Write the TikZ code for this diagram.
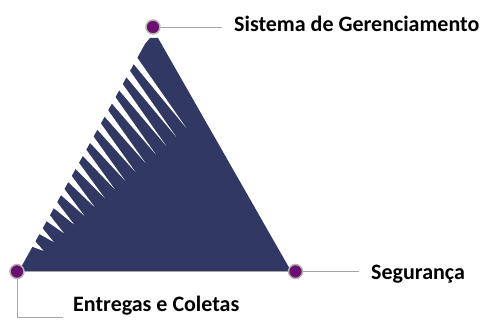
\documentclass[tikz,border=0pt]{standalone}
\usepackage{fontspec}
\setmainfont{Carlito}
\usepackage{tikz}

\definecolor{navy}{RGB}{49,56,99}
\definecolor{plum}{RGB}{106,16,112}
\definecolor{ring}{RGB}{180,180,180}
\definecolor{leadgrey}{RGB}{166,166,166}

\begin{document}
\begin{tikzpicture}[x=1pt,y=-1pt]
\tikzset{dot/.style = {shape=circle,draw=ring,line width=1.5pt,fill=plum,minimum size=14pt,inner sep=0pt}}
\tikzset{leader/.style = {draw=leadgrey,line width=0.9pt}}
\tikzset{caption/.style = {font=\fontsize{22}{26}\selectfont\bfseries,inner sep=0pt,anchor=base west}}
\useasboundingbox (0,0) rectangle (484,323);
% triangle
\fill[navy] (145,44) -- (150,38) -- (158,38) -- (291,271) -- (19,271) -- cycle;
% white slits along the left side
\foreach \i in {0,...,14} {
  \pgfmathsetmacro{\ya}{56+13.14*\i}
  \pgfmathsetmacro{\xa}{145-0.555*(\ya-44)}
  \pgfmathsetmacro{\yb}{\ya+6}
  \pgfmathsetmacro{\xb}{145-0.555*(\yb-44)}
  \pgfmathsetmacro{\len}{1-0.85*\i/14}
  \fill[white] (\xa-3,\ya-1) -- (\xa+48*\len,\ya+72*\len) -- (\xb-3,\yb) -- cycle;
}
\node[dot](top) at (153,27) {};
\node[dot](left) at (17,271.5) {};
\node[dot](right) at (295.5,271.5) {};
\coordinate (topend) at (222,27);
\coordinate (rightend) at (359,271.5);
\coordinate (leftend) at (63,317);
\draw[leader] (left) -- (right);
\draw[leader] (top) -- (topend);
\draw[leader] (right) -- (rightend);
\draw[leader] (left) |- (leftend);
\node[caption](sistema) at (234,31.5) {Sistema de Gerenciamento};
\node[caption](seguranca) at (371,279) {Segurança};
\node[caption](entregas) at (73,311) {Entregas e Coletas};
\end{tikzpicture}
\end{document}
